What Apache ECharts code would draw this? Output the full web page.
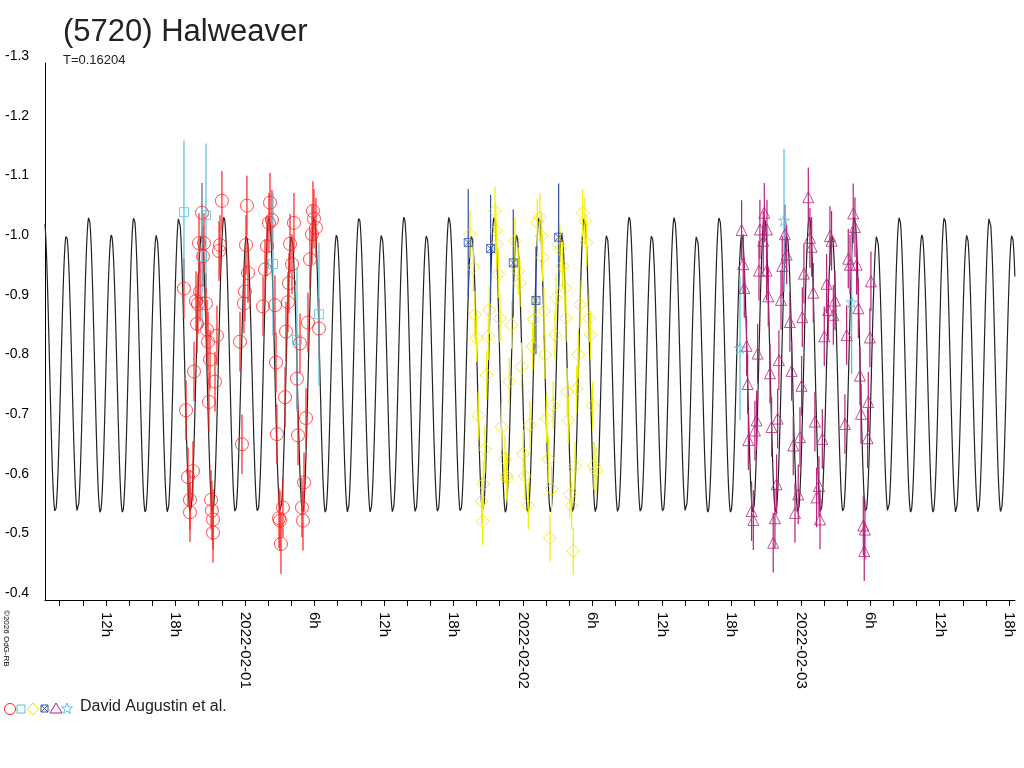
<!DOCTYPE html>
<html><head><meta charset="utf-8">
<script src="https://cdn.jsdelivr.net/npm/echarts@6/dist/echarts.min.js"></script>
<style>html,body{margin:0;background:#fff}#c{width:1024px;height:768px}</style>
</head><body><div id="c"></div>
<script>
// hours since 2022-01-31 00:00, magnitude
const redCircles = [[18.73,-0.922],[18.91,-0.718],[19.08,-0.606],[19.25,-0.568],[19.25,-0.547],[19.51,-0.616],[19.60,-0.783],[19.77,-0.901],[19.86,-0.863],[19.94,-0.896],[20.03,-0.998],[20.12,-0.917],[20.29,-1.049],[20.37,-0.976],[20.46,-0.998],[20.63,-0.897],[20.72,-0.853],[20.81,-0.833],[20.89,-0.732],[20.98,-0.803],[21.07,-0.568],[21.15,-0.550],[21.24,-0.513],[21.24,-0.535],[21.41,-0.766],[21.58,-0.843],[21.76,-0.985],[21.84,-0.995],[22.01,-1.069],[23.57,-0.833],[23.74,-0.661],[23.91,-0.897],[24.00,-0.917],[24.09,-0.995],[24.17,-1.061],[24.26,-0.948],[25.56,-0.892],[25.73,-0.954],[25.90,-0.993],[26.07,-1.032],[26.16,-1.066],[26.33,-1.037],[26.59,-0.894],[26.68,-0.798],[26.76,-0.678],[26.94,-0.537],[27.02,-0.533],[27.11,-0.494],[27.28,-0.555],[27.46,-0.740],[27.54,-0.850],[27.71,-0.899],[27.80,-0.931],[27.89,-0.997],[28.06,-0.963],[28.23,-1.032],[28.49,-0.771],[28.58,-0.676],[28.75,-0.830],[28.92,-0.555],[29.01,-0.533],[29.10,-0.597],[29.27,-0.705],[29.44,-0.865],[29.61,-0.971],[29.79,-1.013],[29.87,-1.052],[29.96,-1.039],[30.13,-1.024],[30.39,-0.855]];
const cyanSquares = [[18.73,-1.050],[20.63,-1.045],[20.29,-0.976],[26.42,-0.963],[28.49,-0.836],[30.39,-0.879]];
const yellowDiamonds = [[43.43,-1.013],[43.72,-0.957],[43.86,-0.878],[44.00,-0.839],[44.15,-0.709],[44.72,-0.653],[44.58,-0.594],[44.44,-0.566],[44.52,-0.532],[44.87,-0.777],[45.01,-0.842],[45.10,-0.886],[45.59,-1.052],[45.67,-1.019],[45.73,-0.996],[45.87,-0.946],[46.02,-0.872],[46.16,-0.690],[46.45,-0.636],[46.59,-0.608],[46.65,-0.603],[46.82,-0.766],[47.03,-0.861],[47.31,-1.002],[47.60,-0.951],[47.75,-0.931],[47.89,-0.791],[48.03,-0.645],[48.18,-0.608],[48.47,-0.558],[48.61,-0.693],[48.84,-0.825],[48.96,-0.870],[49.24,-1.033],[49.47,-1.041],[49.62,-1.010],[49.70,-0.974],[49.82,-0.884],[49.91,-0.811],[50.05,-0.704],[50.19,-0.636],[50.34,-0.504],[50.48,-0.586],[50.62,-0.726],[50.77,-0.844],[50.86,-0.906],[51.06,-0.996],[51.20,-0.988],[51.43,-0.960],[51.63,-0.923],[51.72,-0.872],[51.83,-0.749],[51.92,-0.701],[52.06,-0.577],[52.21,-0.558],[52.35,-0.482],[52.50,-0.625],[52.64,-0.754],[52.78,-0.811],[52.93,-0.895],[53.16,-1.049],[53.36,-1.035],[53.50,-0.999],[53.73,-0.872],[53.85,-0.844],[54.02,-0.726],[54.14,-0.625],[54.31,-0.617]];
const navyCrossed = [[43.28,-0.999],[45.21,-0.989],[47.17,-0.965],[49.13,-0.902],[51.09,-1.008]];
const magentaTriangles = [[66.89,-1.020],[67.03,-0.963],[67.12,-0.923],[67.32,-0.826],[67.41,-0.762],[67.47,-0.668],[67.75,-0.549],[67.90,-0.534],[68.04,-0.684],[68.18,-0.701],[68.27,-0.813],[68.39,-0.952],[68.47,-1.021],[68.76,-1.002],[68.85,-1.049],[69.05,-0.952],[69.08,-1.021],[69.19,-0.909],[69.34,-0.780],[69.48,-0.690],[69.62,-0.496],[69.77,-0.537],[69.91,-0.594],[70.00,-0.704],[70.11,-0.802],[70.29,-0.903],[70.40,-0.960],[70.63,-1.013],[70.78,-0.979],[71.06,-0.866],[71.21,-0.784],[71.35,-0.659],[71.50,-0.546],[71.78,-0.577],[71.93,-0.673],[72.07,-0.759],[72.13,-0.874],[72.27,-0.947],[72.65,-1.075],[72.79,-1.007],[72.94,-0.992],[73.08,-0.915],[73.22,-0.699],[73.37,-0.572],[73.57,-0.591],[73.66,-0.535],[73.86,-0.670],[74.03,-0.842],[74.23,-0.930],[74.37,-0.886],[74.52,-1.010],[74.66,-1.002],[74.81,-0.878],[74.95,-0.902],[75.81,-0.695],[75.96,-0.844],[76.10,-0.972],[76.25,-0.962],[76.53,-1.048],[76.68,-1.025],[76.82,-0.962],[76.97,-0.889],[77.11,-0.776],[77.20,-0.712],[77.40,-0.525],[77.54,-0.518],[77.48,-0.482],[77.77,-0.671],[77.83,-0.732],[77.97,-0.840],[78.06,-0.934]];
const cyanStars = [[66.75,-0.822],[70.55,-1.036],[76.39,-0.899]];
const errRed=0.05, errCyan=0.12, errYellow=0.04, errNavy=0.09, errMag=0.05;
// model: period T (days), epoch of primary max (hours), mean, amplitudes
const periodDays = 0.16204, epochH = 18.30, meanMag = -0.787, amp2 = -0.24, amp1 = -0.015;
const xMin = 6.73, xMax = 90.5;
const minorTickHours = []; for (let h=8; h<=90; h+=2) minorTickHours.push(h);
const labelHours = []; for (let h=12; h<=90; h+=6) labelHours.push(h);

const P = periodDays*24;
const curve = [];
for (let t=xMin; t<=xMax; t+=0.04) {
  const ph = 2*Math.PI*(t-epochH)/P;
  curve.push([t, meanMag + amp2*Math.cos(2*ph) + amp1*Math.cos(ph)]);
}
const base = new Date(Date.UTC(2022,0,31));
function fmtX(h){
  const hh = Math.round(h)%24;
  if (hh===0){const d=new Date(base.getTime()+h*3600e3);return d.toISOString().slice(0,10);}
  return hh+'h';
}
const F='Liberation Sans';
function errSeries(data, err, color){
  return {type:'custom', silent:true, z:2, data:data.map(d=>[d[0],d[1],err]),
    renderItem:(p,api)=>{const a=api.coord([api.value(0),api.value(1)-api.value(2)]),b=api.coord([api.value(0),api.value(1)+api.value(2)]);
      return {type:'line',shape:{x1:a[0],y1:a[1],x2:b[0],y2:b[1]},style:{stroke:color,lineWidth:1.2}};}};
}
function scat(data, symbol, size, color){
  return {type:'scatter', z:3, data, symbol, symbolSize:size, itemStyle:{color:'rgba(0,0,0,0)',borderColor:color,borderWidth:1}};
}
const starPath='path://M5,0L6.2,3.6L10,3.6L6.9,5.8L8.1,9.5L5,7.2L1.9,9.5L3.1,5.8L0,3.6L3.8,3.6Z';
const xSq='path://M0,0L10,0L10,10L0,10Z M0,0L10,10 M10,0L0,10';
const chart = echarts.init(document.getElementById('c'));
chart.setOption({
  animation:false,
  grid:{left:45,right:9,top:63,bottom:168},
  xAxis:{type:'value',min:xMin,max:xMax,
    axisLine:{lineStyle:{color:'#000'}},splitLine:{show:false},
    axisTick:{customValues:minorTickHours,length:6,lineStyle:{color:'#000'}},
    axisLabel:{customValues:labelHours,rotate:-90,formatter:fmtX,color:'#000',fontFamily:F,fontSize:15,margin:12}},
  yAxis:{type:'value',inverse:true,min:-1.3,max:-0.4,interval:0.1,
    axisLine:{show:true,lineStyle:{color:'#000'}},axisTick:{show:false},splitLine:{show:false},
    axisLabel:{formatter:v=>v.toFixed(1),color:'#000',fontFamily:F,fontSize:14,align:'left',margin:40,verticalAlign:'bottom',lineHeight:14}},
  series:[
    {type:'line',data:curve,showSymbol:false,silent:true,z:1,lineStyle:{color:'#222',width:1.2}},
    errSeries(redCircles,errRed,'#ff2020'),errSeries(cyanSquares,errCyan,'#50c0e0'),
    errSeries(yellowDiamonds,errYellow,'#f0f000'),errSeries(navyCrossed,errNavy,'#3050a8'),
    errSeries(magentaTriangles,errMag,'#b8207a'),errSeries(cyanStars,errCyan,'#50c0e0'),
    scat(redCircles,'circle',13,'#ff2020'),scat(cyanSquares,'rect',9,'#50c0e0'),
    scat(yellowDiamonds,'diamond',13,'#f0e000'),scat(navyCrossed,xSq,8,'#3050a8'),
    scat(magentaTriangles,'triangle',11,'#b8207a'),scat(cyanStars,starPath,11,'#50c0e0')
  ],
  graphic:[
    {type:'text',left:63,top:17,style:{text:'(5720) Halweaver',font:'31px "Liberation Sans"',fill:'#222'}},
    {type:'text',left:63,top:54,style:{text:'T=0.16204',font:'13px "Liberation Sans"',fill:'#222'}},
    {type:'text',x:10,y:610,rotation:-Math.PI/2,style:{text:'©2026 OdG-RB',font:'8px "Liberation Sans"',fill:'#000'}},
    {type:'circle',shape:{cx:10,cy:709,r:5.5},style:{fill:'none',stroke:'#ff2020'}},
    {type:'rect',shape:{x:17,y:705,width:8,height:8},style:{fill:'none',stroke:'#50c0e0'}},
    {type:'polygon',shape:{points:[[33,703],[39,709],[33,715],[27,709]]},style:{fill:'none',stroke:'#f0e000'}},
    {type:'rect',shape:{x:41,y:705,width:7,height:7},style:{fill:'none',stroke:'#3050a8'}},
    {type:'line',shape:{x1:41,y1:705,x2:48,y2:712},style:{stroke:'#3050a8'}},
    {type:'line',shape:{x1:48,y1:705,x2:41,y2:712},style:{stroke:'#3050a8'}},
    {type:'polygon',shape:{points:[[56,703],[62,713],[50,713]]},style:{fill:'none',stroke:'#b8207a'}},
    {type:'polygon',shape:{points:[[67,703],[68.5,707],[72.5,707],[69.3,709.5],[70.5,713.5],[67,711],[63.5,713.5],[64.7,709.5],[61.5,707],[65.5,707]]},style:{fill:'none',stroke:'#50c0e0'}},
    {type:'text',left:80,top:699,style:{text:'David Augustin et al.',font:'16px "Liberation Sans"',fill:'#222'}}
  ]
});
</script></body></html>
